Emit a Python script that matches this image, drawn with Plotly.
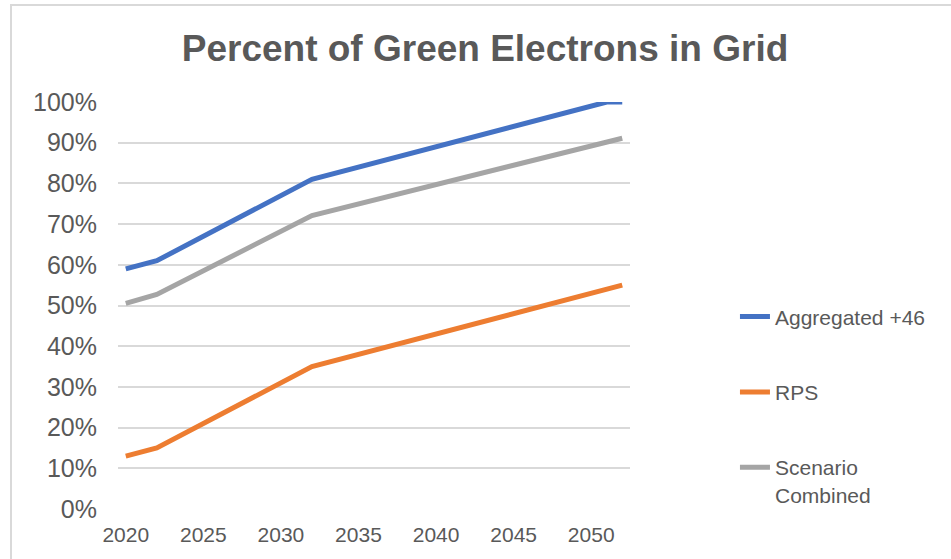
import plotly.graph_objects as go

# Share of green electrons in the grid, by scenario (fraction of 1)
series_names = ["Aggregated +46", "RPS", "Scenario<br>Combined"]
series_colors = ["#4472C4", "#ED7D31", "#A5A5A5"]

agg_years = [2020, 2022, 2032, 2051, 2052]
agg_values = [0.59, 0.61, 0.81, 1.00, 1.00]

rps_years = [2020, 2022, 2032, 2052]
rps_values = [0.13, 0.15, 0.35, 0.55]

combined_years = [2020, 2022, 2032, 2051, 2052]
combined_values = [0.505, 0.527, 0.721, 0.904, 0.911]

x_ticks = [2020, 2025, 2030, 2035, 2040, 2045, 2050]

TEXT = "#595959"
GRID = "#D9D9D9"
FONT = "Liberation Sans, Arial, sans-serif"

fig = go.Figure()
for i, (xs, ys) in enumerate([(agg_years, agg_values),
                              (rps_years, rps_values),
                              (combined_years, combined_values)]):
    fig.add_trace(go.Scatter(
        x=xs, y=ys, mode="lines", name=series_names[i],
        legendgroup=f"g{i}",
        line=dict(color=series_colors[i], width=5),
        hovertemplate="%{x}: %{y:.0%}<extra></extra>",
    ))

fig.update_layout(
    width=951, height=559,
    margin=dict(l=118, r=321, t=102, b=50),
    paper_bgcolor="white", plot_bgcolor="white",
    font=dict(family=FONT, color=TEXT),
    title=dict(
        text="<b>Percent of Green Electrons in Grid</b>",
        font=dict(size=37, color=TEXT, family=FONT),
        x=0.51, xref="container", xanchor="center",
        y=1 - 48 / 559, yref="container", yanchor="middle",
    ),
    xaxis=dict(
        range=[2019.5, 2052.5],
        tickvals=x_ticks,
        showgrid=False, zeroline=False, showline=False,
        ticks="", tickfont=dict(size=21, color=TEXT),
        ticklabelstandoff=11,
    ),
    yaxis=dict(
        range=[0, 1.0],
        dtick=0.1, tickformat=".0%",
        showgrid=True, gridcolor=GRID, gridwidth=1.5,
        zeroline=False, showline=False,
        ticks="", tickfont=dict(size=25, color=TEXT),
        ticklabelstandoff=20,
    ),
    legend=dict(
        x=1.205, xanchor="left",
        y=(509 - 318) / 407 + 0.053, yanchor="top",
        font=dict(size=21, color=TEXT, family=FONT),
        tracegroupgap=45,
        valign="top",
        bgcolor="rgba(0,0,0,0)",
        itemclick=False, itemdoubleclick=False,
    ),
    showlegend=True,
)

# light frame around the chart area
fig.add_shape(
    type="rect", xref="paper", yref="paper",
    x0=(11 - 118) / 512, x1=1.7, y0=-0.2, y1=(509 - 5) / 407,
    line=dict(color=GRID, width=2), fillcolor="rgba(0,0,0,0)",
    layer="below",
)

fig.write_html("out.html")
